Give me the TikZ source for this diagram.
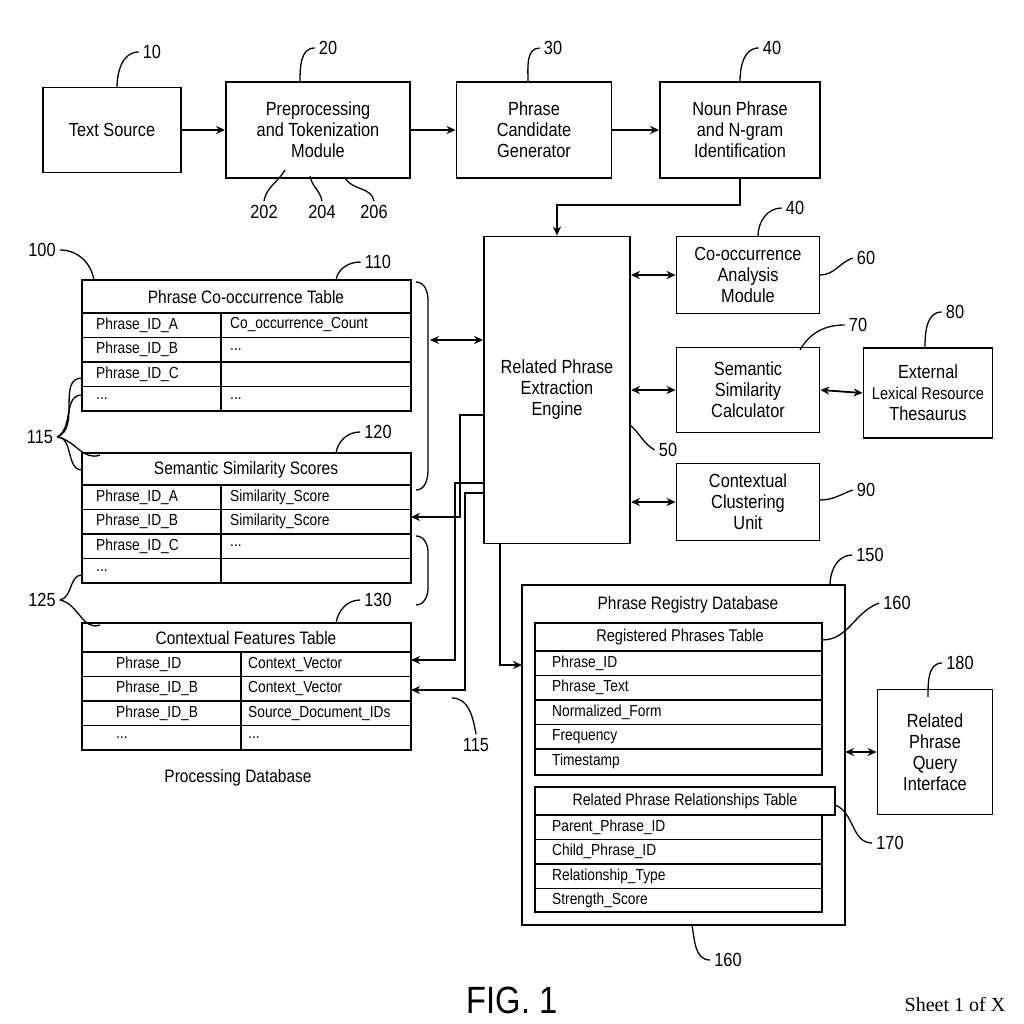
\documentclass[tikz,border=0pt]{standalone}
\usepackage{fontspec}
\setmainfont{Liberation Sans}[FakeStretch=0.86]
\newfontfamily\serifsheet{Liberation Serif}
\usetikzlibrary{arrows.meta}
\newcommand\mydots{...}
\begin{document}
\begin{tikzpicture}[x=1pt,y=-1pt,line width=1.8pt,
  box/.style={draw,align=center,font=\fontsize{19}{21}\selectfont},
  lbl/.style={font=\fontsize{19}{21}\selectfont},
  cell/.style={font=\fontsize{16}{18}\selectfont,anchor=west},
  hd/.style={font=\fontsize{18}{20}\selectfont},
  ar/.style={-{Stealth[length=9pt,width=8pt]}},
  dar/.style={{Stealth[length=9pt,width=8pt]}-{Stealth[length=9pt,width=8pt]}},
  ld/.style={line width=1.3pt}]
\useasboundingbox (0,0) rectangle (1024,1024);
% top row
\node[box,minimum width=138pt,minimum height=85pt] (ts) at (112,130) {Text Source};
\node[box,minimum width=184pt,minimum height=96pt] (pp) at (318,130) {Preprocessing\\and Tokenization\\Module};
\node[box,minimum width=155pt,minimum height=96pt] (pc) at (534,130) {Phrase\\Candidate\\Generator};
\node[box,minimum width=160pt,minimum height=96pt] (np) at (740,130) {Noun Phrase\\and N-gram\\Identification};
\draw[ar] (ts) -- (pp); \draw[ar] (pp) -- (pc); \draw[ar] (pc) -- (np);
\node[lbl] (l10) at (152,52) {10}; \draw[ld] (117,88) to[out=90,in=180] (l10.west);
\node[lbl] (l20) at (328,48) {20}; \draw[ld] (300,82) to[out=90,in=180] (l20.west);
\node[lbl] (l30) at (553,48) {30}; \draw[ld] (528,82) to[out=90,in=180] (l30.west);
\node[lbl] (l40) at (772,48) {40}; \draw[ld] (740,82) to[out=90,in=180] (l40.west);
\node[lbl] (l202) at (264,212) {202}; \draw[ld] (l202.north) to[out=80,in=240] (285,170);
\node[lbl] (l204) at (322,212) {204}; \draw[ld] (l204.north) to[out=100,in=280] (310,176);
\node[lbl] (l206) at (374,212) {206}; \draw[ld] (l206.north) to[out=100,in=300] (345,178);
% engine
\node[box,minimum width=146pt,minimum height=307pt] (en) at (557,390) {Related Phrase\\Extraction\\Engine};
\coordinate (c1) at (740,205);
\draw[ar] (np.south) |- (c1) -| (en.north);
\node[box,minimum width=143pt,minimum height=77pt] (co) at (748,275) {Co-occurrence\\Analysis\\Module};
\node[box,minimum width=143pt,minimum height=85pt] (ss) at (748,390) {Semantic\\Similarity\\Calculator};
\node[box,minimum width=129pt,minimum height=90pt] (ex) at (928,393) {External\\{\fontsize{17}{20}\selectfont Lexical Resource}\\Thesaurus};
\node[box,minimum width=143pt,minimum height=77pt] (cc) at (748,502) {Contextual\\Clustering\\Unit};
\draw[dar] (en.east|-co) -- (co.west);
\draw[dar] (en.east|-ss) -- (ss.west);
\draw[dar] (en.east|-cc) -- (cc.west);
\draw[dar] (ss.east) -- (ex.west);
\node[lbl] (l40b) at (795,208) {40}; \draw[ld] (758,236) to[out=90,in=180] (l40b.west);
\node[lbl] (l60) at (866,258) {60}; \draw[ld] (820,275) to[out=0,in=200] (l60.west);
\node[lbl] (l70) at (858,325) {70}; \draw[ld] (800,350) to[out=60,in=180] (l70.west);
\node[lbl] (l80) at (955,312) {80}; \draw[ld] (925,348) to[out=90,in=180] (l80.west);
\node[lbl] (l90) at (866,490) {90}; \draw[ld] (820,500) to[out=0,in=200] (l90.west);
\node[lbl] (l50) at (668,450) {50}; \draw[ld] (630,425) to[out=-40,in=150] (l50.west);
% tables
\foreach \y/\h/\t/\sx in {280/33/Phrase Co-occurrence Table/221, 453/32/Semantic Similarity Scores/221, 623/29/Contextual Features Table/241}{
  \draw (82,\y) rectangle (411,\y+\h+98);
  \draw (82,\y+\h) -- (411,\y+\h);
  \foreach \k in {1,2,3} \draw (82,\y+\h+24.5*\k) -- (411,\y+\h+24.5*\k);
  \draw (\sx,\y+\h) -- (\sx,\y+\h+98);
  \node[hd] at (246,\y+\h/2+1) {\t};
}
\foreach \r/\a/\b in {0/Phrase\_ID\_A/Co\_occurrence\_Count,1/Phrase\_ID\_B/\mydots,2/Phrase\_ID\_C/,3/\mydots/\mydots}{
  \node[cell] at (92,325+24.5*\r) {\a}; \node[cell] at (226,325+24.5*\r) {\b};}
\foreach \r/\a/\b in {0/Phrase\_ID\_A/Similarity\_Score,1/Phrase\_ID\_B/Similarity\_Score,2/Phrase\_ID\_C/\mydots,3/\mydots/}{
  \node[cell] at (92,497+24.5*\r) {\a}; \node[cell] at (226,497+24.5*\r) {\b};}
\foreach \r/\a/\b in {0/Phrase\_ID/Context\_Vector,1/Phrase\_ID\_B/Context\_Vector,2/Phrase\_ID\_B/Source\_Document\_IDs,3/\mydots/\mydots}{
  \node[cell] at (112,664+24.5*\r) {\a}; \node[cell] at (244,664+24.5*\r) {\b};}
\node[lbl,font=\fontsize{18}{20}\selectfont] (pdb) at (238,778) {Processing Database};
\node[lbl] (l100) at (42,250) {100}; \draw[ld] (l100.east) to[out=0,in=100] (94,280);
\node[lbl] (l110) at (378,262) {110}; \draw[ld] (336,280) to[out=80,in=180] (l110.west);
\node[lbl] (l120) at (378,432) {120}; \draw[ld] (336,453) to[out=80,in=180] (l120.west);
\node[lbl] (l130) at (378,600) {130}; \draw[ld] (336,623) to[out=80,in=180] (l130.west);
\node[lbl] (l115) at (40,437) {115};
\draw[ld] (l115.east) to[out=20,in=180] (82,378);
\draw[ld] (l115.east) to[out=0,in=180] (82,470);
\draw[ld] (l115.east) to[out=-10,in=200] (100,455);
\draw[ld] (l115.east) to[out=30,in=180] (82,395);
\node[lbl] (l125) at (42,600) {125};
\draw[ld] (l125.east) to[out=-10,in=200] (100,625);
\draw[ld] (l125.east) to[out=10,in=180] (82,575);
% right brackets
\draw[ld] (416,282) to[out=0,in=90] (428,300) -- (428,470) to[out=-90,in=0] (416,490);
\draw[ld] (416,536) to[out=0,in=90] (428,552) -- (428,588) to[out=-90,in=0] (416,605);
% connections
\draw[dar] (430,340) -- (en.west|-430,340);
\coordinate (k1) at (460,415); \coordinate (k2) at (460,517);
\draw[ar] (en.west|-k1) -- (k1) -- (k2) -- (411,517);
\coordinate (k3) at (455,483); \coordinate (k4) at (455,660);
\draw[ar] (en.west|-k3) -- (k3) -- (k4) -- (411,660);
\coordinate (k5) at (465,493); \coordinate (k6) at (465,690);
\draw[ar] (en.west|-k5) -- (k5) -- (k6) -- (411,690);
\node[lbl] (l115b) at (476,745) {115}; \draw[ld] (l115b.north) to[out=100,in=0] (452,698);
% registry
\draw (522,585) rectangle (845,925);
\node[hd] (prd) at (688,605) {Phrase Registry Database};
\coordinate (k7) at (500,665);
\draw[ar] (500,543) -- (k7) -- (522,665);
\draw (535,623) rectangle (822,775); \draw (535,651) -- (822,651);
\node[hd,font=\fontsize{17}{19}\selectfont] at (680,637) {Registered Phrases Table};
\foreach \r/\t in {0/Phrase\_ID,1/Phrase\_Text,2/Normalized\_Form,3/Frequency,4/Timestamp}{
  \node[cell] at (548,663+24.5*\r) {\t};
  \ifnum\r>0 \draw (535,651+24.5*\r) -- (822,651+24.5*\r); \fi}
\draw (535,815) rectangle (822,912);
\node[draw,fill=white,minimum width=300pt,minimum height=28pt,font=\fontsize{16.5}{19}\selectfont] (rrt) at (685,801) {Related Phrase Relationships Table};
\foreach \r/\t in {0/Parent\_Phrase\_ID,1/Child\_Phrase\_ID,2/Relationship\_Type,3/Strength\_Score}{
  \node[cell] at (548,827+24.5*\r) {\t};
  \ifnum\r>0 \draw (535,815+24.5*\r) -- (822,815+24.5*\r); \fi}
\node[box,minimum width=115pt,minimum height=125pt] (qi) at (935,752) {Related\\Phrase\\Query\\Interface};
\draw[dar] (845,752) -- (qi.west);
\node[lbl] (l150) at (870,555) {150}; \draw[ld] (830,585) to[out=90,in=180] (l150.west);
\node[lbl] (l160) at (897,603) {160}; \draw[ld] (822,640) to[out=0,in=200] (l160.west);
\node[lbl] (l170) at (890,843) {170}; \draw[ld] (835,805) to[out=-20,in=180] (l170.west);
\node[lbl] (l180) at (960,663) {180}; \draw[ld] (928,697) to[out=90,in=180] (l180.west);
\node[lbl] (l160b) at (728,960) {160}; \draw[ld] (692,925) to[out=-80,in=180] (l160b.west);
\node[font=\fontsize{38}{40}\selectfont] (fig) at (512,1000) {FIG. 1};
\node[font=\serifsheet\fontsize{20}{22}\selectfont] (sh) at (955,1005) {Sheet 1 of X};
\end{tikzpicture}
\end{document}
